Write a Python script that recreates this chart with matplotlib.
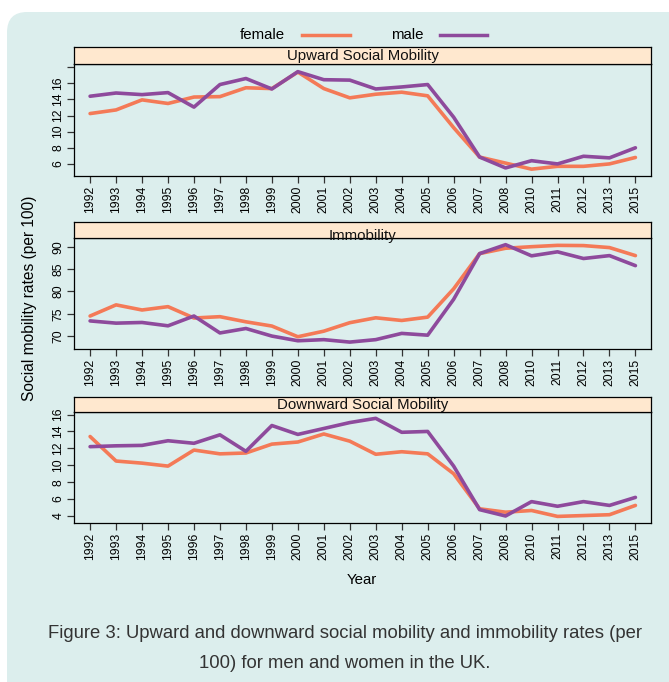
import matplotlib
matplotlib.use("Agg")
from matplotlib import pyplot as plt
from matplotlib.patches import FancyBboxPatch
from matplotlib.lines import Line2D

# 数据（2009 和 2014 没有）
years = ["1992", "1993", "1994", "1995", "1996", "1997", "1998", "1999", "2000",
         "2001", "2002", "2003", "2004", "2005", "2006", "2007", "2008", "2010",
         "2011", "2012", "2013", "2015"]

up_female = [12.25, 12.7, 13.95, 13.5, 14.3, 14.35, 15.45, 15.35, 17.4, 15.35, 14.2,
             14.65, 14.9, 14.45, 10.5, 6.85, 6.1, 5.35, 5.7, 5.7, 6.0, 6.8]
up_male = [14.4, 14.8, 14.6, 14.85, 13.05, 15.85, 16.6, 15.3, 17.45, 16.45, 16.4,
           15.3, 15.55, 15.85, 11.8, 6.85, 5.5, 6.4, 6.0, 6.95, 6.75, 8.0]

im_female = [74.5, 77.0, 75.85, 76.6, 74.05, 74.35, 73.2, 72.25, 69.85, 71.1, 73.0,
             74.1, 73.5, 74.25, 80.6, 88.5, 89.7, 90.05, 90.35, 90.3, 89.85, 88.05]
im_male = [73.4, 72.9, 73.05, 72.3, 74.5, 70.7, 71.7, 70.0, 68.95, 69.2, 68.65,
           69.2, 70.6, 70.2, 78.25, 88.5, 90.5, 88.0, 88.9, 87.4, 88.05, 85.8]

down_female = [13.4, 10.5, 10.25, 9.9, 11.8, 11.35, 11.45, 12.5, 12.75, 13.7, 12.85,
               11.3, 11.6, 11.35, 9.0, 4.85, 4.45, 4.65, 3.95, 4.05, 4.15, 5.25]
down_male = [12.2, 12.3, 12.35, 12.9, 12.6, 13.6, 11.65, 14.7, 13.65, 14.35, 15.05,
             15.55, 13.9, 14.0, 9.9, 4.75, 4.0, 5.7, 5.15, 5.7, 5.25, 6.2]

# 面板设置：标题、数据、y 范围、刻度
panels = [
    ("Upward Social Mobility", up_female, up_male, (4.5, 18.4),
     [6, 8, 10, 12, 14, 16, 18], ["6", "8", "10", "12", "14", "16", ""]),
    ("Immobility", im_female, im_male, (67.1, 92.0),
     [70, 75, 80, 85, 90], ["70", "75", "80", "85", "90"]),
    ("Downward Social Mobility", down_female, down_male, (3.17, 16.3),
     [4, 6, 8, 10, 12, 14, 16], ["4", "6", "8", "10", "12", "14", "16"]),
]

female_col = "#F47A57"
male_col = "#8E4A9C"
bg_col = "#DCEEED"
strip_col = "#FFE8CF"

W, H = 669, 682
fig = plt.figure(figsize=(W / 100, H / 100), dpi=100)
plt.rcParams['font.family'] = ['Liberation Sans', 'DejaVu Sans']

# 圆角背景框
box = FancyBboxPatch((7 / W, -0.05), 1.2, (H - 12) / H + 0.05,
                     boxstyle="round,pad=0,rounding_size=0.03",
                     transform=fig.transFigure, facecolor=bg_col,
                     edgecolor="none", zorder=-10)
fig.patches.append(box)

left, right = 74, 651
# 每个面板的像素位置 (条带顶部, 绘图区顶部, 绘图区底部)
rows = [(47, 64, 176), (222, 238, 349), (397, 412, 523)]

x = list(range(len(years)))
for (title, fem, mal, ylim, yt, ytl), (s_top, p_top, p_bot) in zip(panels, rows):
    ax = fig.add_axes([left / W, 1 - p_bot / H, (right - left) / W, (p_bot - p_top) / H])
    ax.set_facecolor(bg_col)
    ax.plot(x, fem, color=female_col, lw=2.6, solid_capstyle="round", solid_joinstyle="round")
    ax.plot(x, mal, color=male_col, lw=2.6, solid_capstyle="round", solid_joinstyle="round")
    ax.set_xlim(-0.62, len(years) - 1 + 0.6)
    ax.set_ylim(*ylim)
    ax.set_xticks(x)
    ax.set_xticklabels(years, rotation=90, fontsize=8.8)
    ax.set_yticks(yt)
    ax.set_yticklabels(ytl, rotation=90, fontsize=8.8, va="center")
    ax.tick_params(length=5, width=0.9, color="#333333", pad=2)
    for sp in ax.spines.values():
        sp.set_linewidth(0.9)

    # 条带
    sax = fig.add_axes([left / W, 1 - p_top / H, (right - left) / W, (p_top - s_top) / H])
    sax.set_facecolor(strip_col)
    sax.set_xticks([])
    sax.set_yticks([])
    for sp in sax.spines.values():
        sp.set_linewidth(0.9)
    ty = 0.1 if title == "Immobility" else 0.45
    sax.text(0.5, ty, title, ha="center", va="center", fontsize=10.8, color="#111111",
             transform=sax.transAxes)

# 图例
fig.text(285 / W, 1 - 35 / H, "female", ha="right", va="center", fontsize=10.8)
fig.add_artist(Line2D([302 / W, 350 / W], [1 - 35 / H] * 2, color=female_col, lw=2.5,
                      transform=fig.transFigure))
fig.text(424 / W, 1 - 35 / H, "male", ha="right", va="center", fontsize=10.8)
fig.add_artist(Line2D([440 / W, 487 / W], [1 - 35 / H] * 2, color=male_col, lw=2.5,
                      transform=fig.transFigure))

# 坐标轴标题
fig.text(30 / W, 1 - 298 / H, "Social mobility rates (per 100)", rotation=90,
         ha="center", va="center", fontsize=11.2)
fig.text(362 / W, 1 - 580 / H, "Year", ha="center", va="center", fontsize=10.8)

# 图注
cap_font = ['Liberation Sans Narrow', 'Liberation Sans', 'DejaVu Sans']
fig.text(345 / W, 1 - 633 / H,
         "Figure 3: Upward and downward social mobility and immobility rates (per",
         ha="center", va="center", fontsize=13.3, family=cap_font, color="#333333")
fig.text(345 / W, 1 - 663 / H, "100) for men and women in the UK.",
         ha="center", va="center", fontsize=13.3, family=cap_font, color="#333333")

fig.savefig("out.png", dpi=100, facecolor="white")
